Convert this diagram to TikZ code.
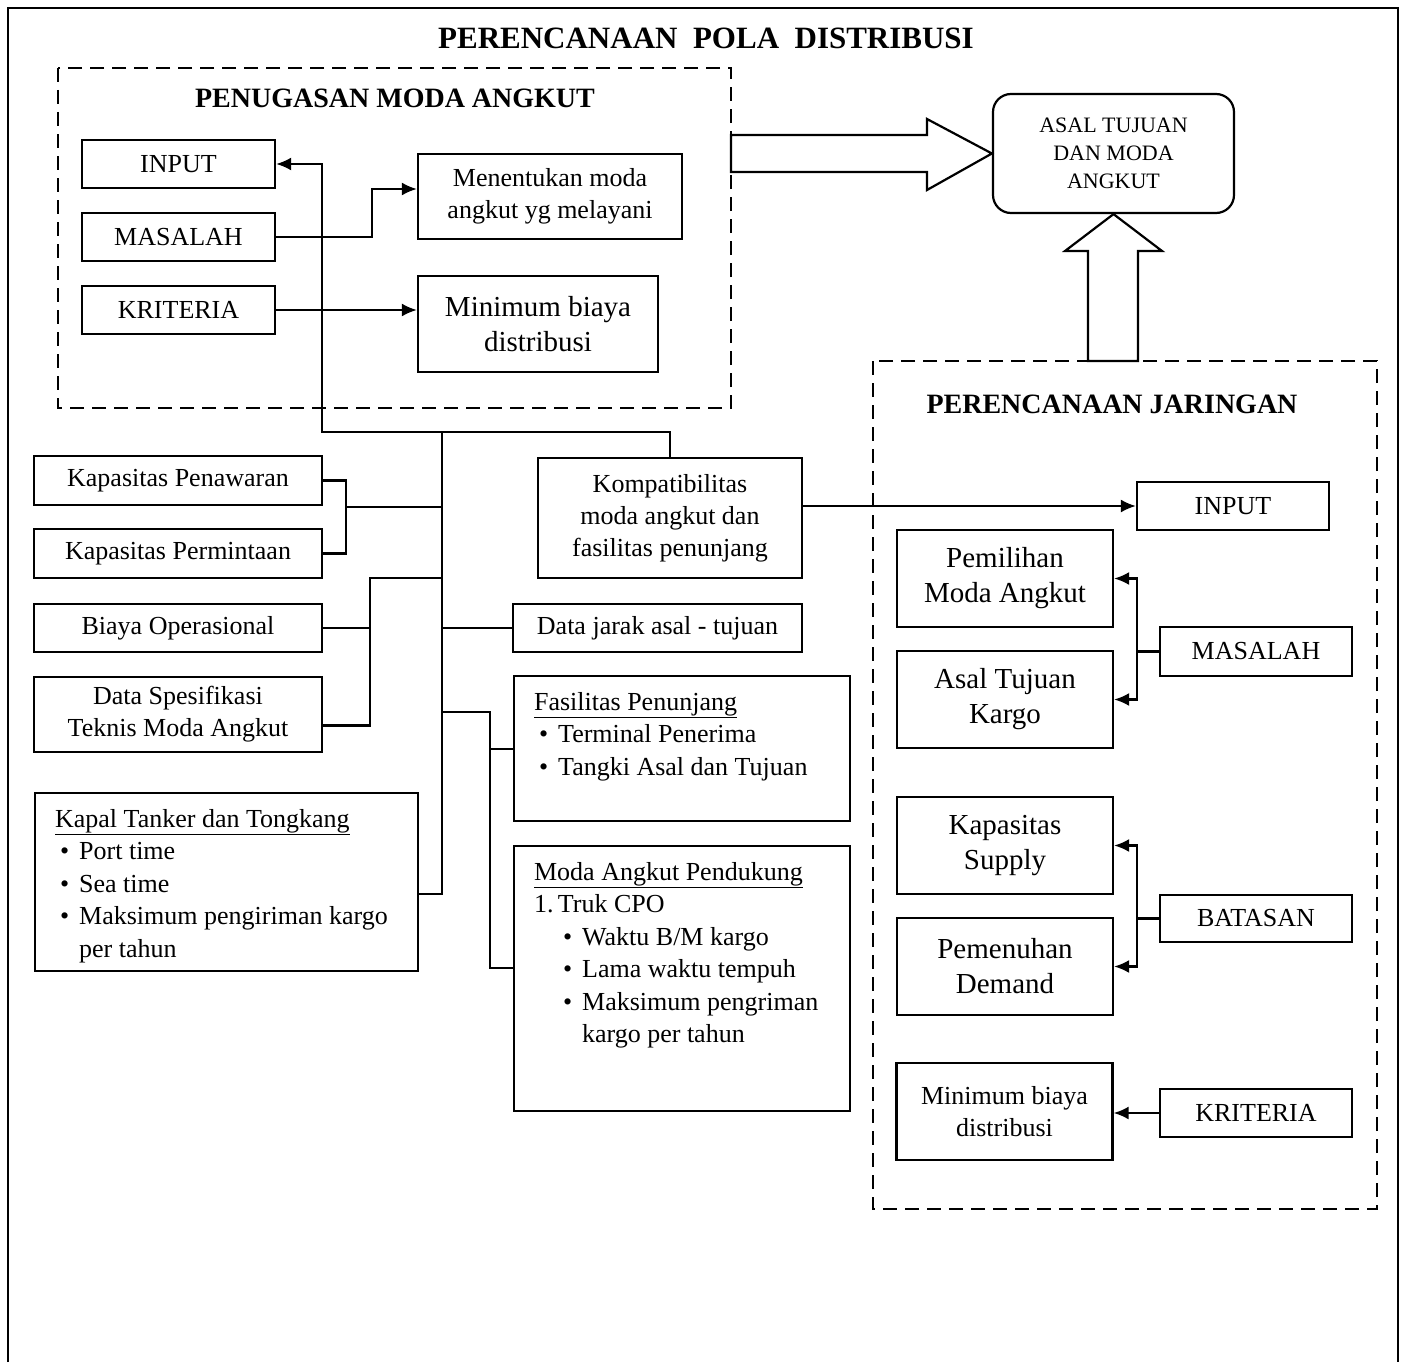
\documentclass[tikz,border=0pt]{standalone}
\usepackage{fontspec}
\setmainfont{Liberation Serif}
\usetikzlibrary{arrows.meta}

\tikzset{
  box/.style={draw, line width=2.2pt, align=center, inner sep=0pt, font=\fontsize{26}{32}\selectfont},
  bigbox/.style={box, font=\fontsize{29}{35}\selectfont},
  listbox/.style={draw, line width=2.2pt, inner xsep=20pt, inner ysep=16pt, anchor=north west, font=\fontsize{26}{32.5}\selectfont},
  line/.style={line width=2.2pt},
  arr/.style={line, -{Latex[length=15pt,width=13pt]}},
  group/.style={line width=2.2pt, dash pattern=on 14pt off 8pt},
  hollow/.style={line width=2.2pt, line join=miter},
  heading/.style={font=\fontsize{28}{32}\selectfont\bfseries},
}

\begin{document}
\begin{tikzpicture}[x=1pt,y=-1pt]

    \useasboundingbox (0,0) rectangle (1404,1362);
    % outer frame, open at the bottom
    \draw[line] (8,1362) -- (8,8) -- (1398,8) -- (1398,1362);
    \node[font=\fontsize{31}{36}\selectfont\bfseries] (judul) at (706,38) {PERENCANAAN~~POLA~~DISTRIBUSI};

    % penugasan moda angkut
    \draw[group] (58,68) rectangle (731,408);
    \node[heading] (penugasan) at (395,98) {PENUGASAN MODA ANGKUT};
    \node[box, minimum width=193pt, minimum height=48pt] (input) at (178.5,164) {INPUT};
    \node[box, minimum width=193pt, minimum height=48pt] (masalah) at (178.5,237) {MASALAH};
    \node[box, minimum width=193pt, minimum height=48pt] (kriteria) at (178.5,310) {KRITERIA};
    \node[box, minimum width=264pt, minimum height=85pt] (menentukan) at (550,196.5) {Menentukan moda\\angkut yg melayani};
    \node[bigbox, minimum width=240pt, minimum height=96pt] (minbiaya) at (538,324) {Minimum biaya\\distribusi};

    % asal tujuan dan moda angkut
    \node[box, rounded corners=18pt, minimum width=241pt, minimum height=119pt, font=\fontsize{22}{28}\selectfont] (asaltujuan) at (1113.5,153.5) {ASAL TUJUAN\\DAN MODA\\ANGKUT};
    \draw[hollow] (731,135) -- (927,135) -- (927,119) -- (asaltujuan.west) -- (927,190) -- (927,172) -- (731,172) -- cycle;
    \draw[hollow] (1088,361) -- (1088,251) -- (1065,251) -- (asaltujuan.south) -- (1162,251) -- (1138,251) -- (1138,361) -- cycle;

    % data masukan
    \node[box, minimum width=288pt, minimum height=49pt] (kpen) at (178,480.5) {Kapasitas Penawaran};
    \node[box, minimum width=288pt, minimum height=49pt] (kper) at (178,553.5) {Kapasitas Permintaan};
    \node[box, minimum width=288pt, minimum height=48pt] (biaya) at (178,628) {Biaya Operasional};
    \node[box, minimum width=288pt, minimum height=75pt] (dspek) at (178,714.5) {Data Spesifikasi\\Teknis Moda Angkut};
    \node[listbox] (kapal) at (34,792) {\parbox[c][146pt][t]{343pt}{\raggedright
        \underline{Kapal Tanker dan Tongkang}\\
        \hspace*{5pt}\textbullet\hspace{10pt}Port time\\
        \hspace*{5pt}\textbullet\hspace{10pt}Sea time\\
        \hspace*{5pt}\textbullet\hspace{10pt}Maksimum pengiriman kargo\\
        \hspace*{24pt}per tahun}};
    \node[box, minimum width=264pt, minimum height=120pt] (komp) at (670,518) {Kompatibilitas\\moda angkut dan\\fasilitas penunjang};
    \node[box, minimum width=289pt, minimum height=48pt] (jarak) at (657.5,628) {Data jarak asal - tujuan};
    \node[listbox] (fasil) at (513,675) {\parbox[c][113pt][t]{296pt}{\raggedright
        \underline{Fasilitas Penunjang}\\
        \hspace*{5pt}\textbullet\hspace{10pt}Terminal Penerima\\
        \hspace*{5pt}\textbullet\hspace{10pt}Tangki Asal dan Tujuan}};
    \node[listbox] (moda) at (513,845) {\parbox[c][233pt][t]{296pt}{\raggedright
        \underline{Moda Angkut Pendukung}\\
        1.\,Truk CPO\\
        \hspace*{29pt}\textbullet\hspace{10pt}Waktu B/M kargo\\
        \hspace*{29pt}\textbullet\hspace{10pt}Lama waktu tempuh\\
        \hspace*{29pt}\textbullet\hspace{10pt}Maksimum pengriman\\
        \hspace*{48pt}kargo per tahun}};

    % perencanaan jaringan
    \draw[group] (873,361) rectangle (1377,1209);
    \node[heading] (jaringan) at (1112,404) {PERENCANAAN JARINGAN};
    \node[box, minimum width=192pt, minimum height=48pt] (inputb) at (1233,506) {INPUT};
    \node[bigbox, minimum width=216pt, minimum height=97pt] (pemilihan) at (1005,578.5) {Pemilihan\\Moda Angkut};
    \node[bigbox, minimum width=216pt, minimum height=97pt] (asalkargo) at (1005,699.5) {Asal Tujuan\\Kargo};
    \node[box, minimum width=192pt, minimum height=49pt] (masalahb) at (1256,651.5) {MASALAH};
    \node[bigbox, minimum width=216pt, minimum height=97pt] (supply) at (1005,845.5) {Kapasitas\\Supply};
    \node[bigbox, minimum width=216pt, minimum height=97pt] (demand) at (1005,966.5) {Pemenuhan\\Demand};
    \node[box, minimum width=192pt, minimum height=47pt] (batasan) at (1256,918.5) {BATASAN};
    \node[box, minimum width=216pt, minimum height=97pt] (minbiayab) at (1004.5,1111.5) {Minimum biaya\\distribusi};
    \node[box, minimum width=192pt, minimum height=48pt] (kriteriab) at (1256,1113) {KRITERIA};

    % connectors
    \coordinate (jA) at (322,432);
    \coordinate (jB) at (442,432);
    \coordinate (bA) at (346,507);
    \coordinate (bB) at (370,578);
    \coordinate (bC) at (490,712);
    \coordinate (bD) at (372,189);
    \coordinate (bE) at (1137,652);
    \coordinate (bF) at (1137,918);

    \draw[arr] (komp.north) |- (jA) |- (input.east);
    \draw[arr] (masalah.east) -| (bD) -- (bD -| menentukan.west);
    \draw[arr] (kriteria.east) -- (kriteria.east -| minbiaya.west);
    \draw[line] (jB) |- ([yshift=-12pt]kapal.east);
    \draw[line] (kpen.east) -| (bA) |- (kper.east);
    \draw[line] (bA) -- (bA -| jB);
    \draw[line] (bB -| jB) -- (bB) |- (biaya.east);
    \draw[line] (bB) |- ([yshift=-11pt]dspek.east);
    \draw[line] (jB |- jarak.west) -- (jarak.west);
    \draw[line] (bC -| jB) -- (bC) |- (fasil.west);
    \draw[line] (bC) |- ([yshift=11pt]moda.west);
    \draw[arr] (komp.east |- inputb.west) -- (inputb.west);

    \draw[line] (masalahb.west) -- (masalahb.west -| bE);
    \draw[arr] (bE) |- (pemilihan.east);
    \draw[arr] (bE) |- (asalkargo.east);
    \draw[line] (batasan.west) -- (batasan.west -| bF);
    \draw[arr] (bF) |- (supply.east);
    \draw[arr] (bF) |- (demand.east);
    \draw[arr] (kriteriab.west) -- (kriteriab.west -| minbiayab.east);

\end{tikzpicture}
\end{document}
